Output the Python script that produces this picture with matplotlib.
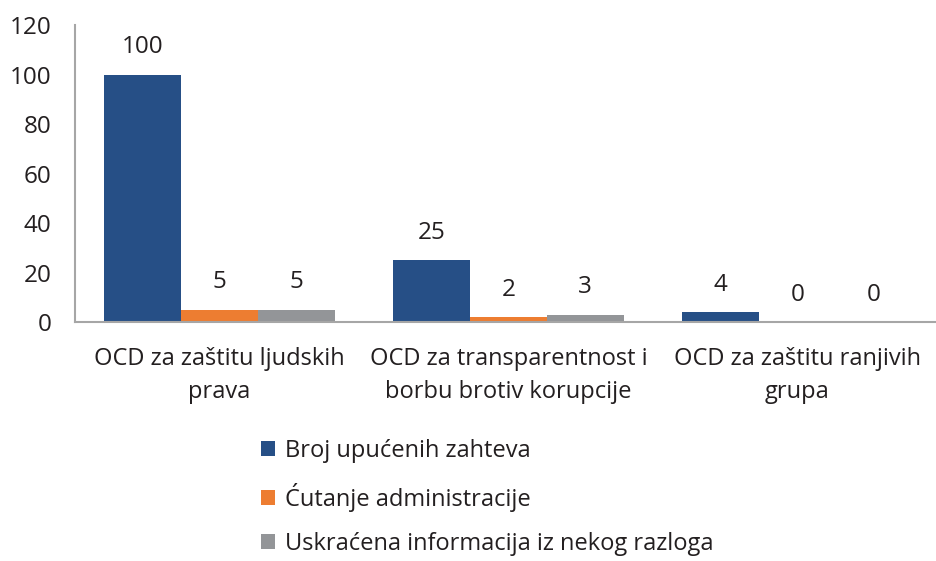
import numpy as np
import matplotlib
matplotlib.use("Agg")
from matplotlib import pyplot as plt

categories = [
    "OCD za zaštitu ljudskih\nprava",
    "OCD za transparentnost i\nborbu brotiv korupcije",
    "OCD za zaštitu ranjivih\ngrupa",
]
series_names = [
    "Broj upućenih zahteva",
    "Ćutanje administracije",
    "Uskraćena informacija iz nekog razloga",
]
requests = [100, 25, 4]
silence = [5, 2, 0]
denied = [5, 3, 0]
yticks = [0, 20, 40, 60, 80, 100, 120]

colors = ["#264F86", "#ED7D31", "#939598"]
spine_color = "#A6A6A6"
text_color = "#231F20"

plt.rcParams["font.family"] = ["Open Sans", "DejaVu Sans"]

fig = plt.figure(figsize=(9.37, 5.61), dpi=100)
ax = fig.add_axes([0.080, 0.426, 0.925, 0.529])

x = np.arange(len(categories))
width = 0.266
for i, (vals, name, c) in enumerate(zip([requests, silence, denied], series_names, colors)):
    pos = x + (i - 1) * width
    ax.bar(pos, vals, width=width, color=c, label=name, edgecolor="none")
    for px, v in zip(pos, vals):
        ax.annotate(str(v), (px, v), xytext=(0, 11), textcoords="offset points",
                    ha="center", va="bottom", fontsize=17.5, color=text_color)

ax.set_xlim(-0.5, 2.5)
ax.set_ylim(0, 120)
ax.set_yticks(yticks)
ax.set_xticks(x)
ax.set_xticklabels(categories, fontsize=17, color=text_color, linespacing=1.5)
ax.tick_params(axis="y", length=0, pad=17, labelsize=17.5, labelcolor=text_color)
ax.tick_params(axis="x", length=0, pad=18)

for s in ["top", "right"]:
    ax.spines[s].set_visible(False)
for s in ["left", "bottom"]:
    ax.spines[s].set_color(spine_color)
    ax.spines[s].set_linewidth(1.5)

fig.legend(loc="upper left", bbox_to_anchor=(0.266, 0.239), frameon=False,
           fontsize=17, handlelength=0.6, handleheight=0.6, handletextpad=0.4,
           labelspacing=0.85, labelcolor=text_color, borderpad=0)

fig.savefig("out.png", dpi=100)
